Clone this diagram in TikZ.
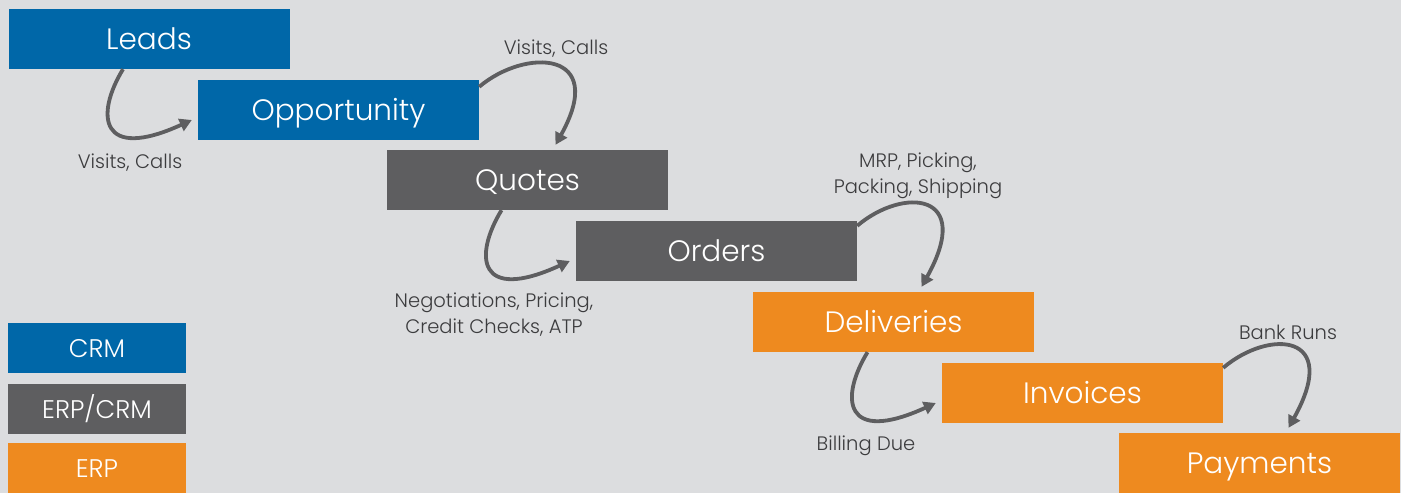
\documentclass[tikz,border=0pt]{standalone}
\usepackage{fontspec}
\setmainfont{Poppins Light}
\usetikzlibrary{calc,arrows.meta}
\definecolor{bgc}{HTML}{DCDDDF}
\definecolor{crmblue}{HTML}{0067A8}
\definecolor{mixgrey}{HTML}{5E5E60}
\definecolor{erporange}{HTML}{EE8A1F}
\definecolor{labelc}{HTML}{3C3C3E}
\begin{document}
\begin{tikzpicture}[x=1pt,y=-1pt,
  stage/.style={rectangle,draw=none,minimum width=281pt,minimum height=60pt,
    inner sep=0pt,text=white,text height=21pt,text depth=0pt,
    font=\fontsize{29.5}{32}\selectfont},
  legendbox/.style={rectangle,draw=none,minimum width=178pt,minimum height=50pt,
    inner sep=0pt,text=white,text height=18pt,text depth=0pt,
    font=\fontsize{25.5}{28}\selectfont},
  note/.style={text=labelc,align=center,inner sep=0pt,font=\fontsize{19.5}{26}\selectfont},
  flow/.style={draw=mixgrey,line width=3.8pt,-{Triangle[length=12pt,width=13pt]}}]
  % canvas
  \fill[bgc] (0,0) rectangle (1401,493);
  \useasboundingbox (0,0) rectangle (1401,493);

  % process stages
  \node[stage,fill=crmblue]   (leads)  at (149,39)    {Leads};
  \node[stage,fill=crmblue]   (opp)    at (338.5,110) {Opportunity};
  \node[stage,fill=mixgrey]   (quotes) at (527.5,180) {Quotes};
  \node[stage,fill=mixgrey]   (orders) at (716.5,251) {Orders};
  \node[stage,fill=erporange] (deliv)  at (893.5,322) {Deliveries};
  \node[stage,fill=erporange] (inv)    at (1082.5,393){Invoices};
  \node[stage,fill=erporange] (pay)    at (1259.5,463){Payments};

  % legend
  \node[legendbox,fill=crmblue]   (lcrm) at (97,348) {CRM};
  \node[legendbox,fill=mixgrey]   (lmix) at (97,409) {ERP/CRM};
  \node[legendbox,fill=erporange] (lerp) at (97,468) {ERP};

  % hook-shaped transitions: down and round into the next stage
  \draw[flow] ($(leads.south)+(-26,0)$) .. controls +(-28,46) and +(-92,42) .. ($(opp.west)+(-6,10)$);
  \draw[flow] ($(quotes.south)+(-26,0)$) .. controls +(-28,46) and +(-92,42) .. ($(orders.west)+(-6,10)$);
  \draw[flow] ($(deliv.south)+(-26,0)$) .. controls +(-28,46) and +(-92,42) .. ($(inv.west)+(-6,10)$);

  % arching transitions: over the top and down onto the next stage
  \draw[flow] ($(opp.north east)+(0,7)$) .. controls +(46,-39) and +(53,-95) .. ($(quotes.north)+(28,-5)$);
  \draw[flow] ($(orders.north east)+(0,5)$) .. controls +(46,-39) and +(53,-95) .. ($(deliv.north)+(28,-5)$);
  \draw[flow] ($(inv.north east)+(0,5)$) .. controls +(46,-39) and +(53,-95) .. ($(pay.north)+(29,-5)$);

  % activity labels
  \node[note] (n1) at (130,163) {Visits, Calls};
  \node[note] (n2) at (556,49) {Visits, Calls};
  \node[note] (n3) at (494,315) {Negotiations, Pricing,\\Credit Checks, ATP};
  \node[note] (n4) at (918,176) {MRP, Picking,\\Packing, Shipping};
  \node[note] (n5) at (866,446) {Billing Due};
  \node[note] (n6) at (1288,332) {Bank Runs};
\end{tikzpicture}
\end{document}
